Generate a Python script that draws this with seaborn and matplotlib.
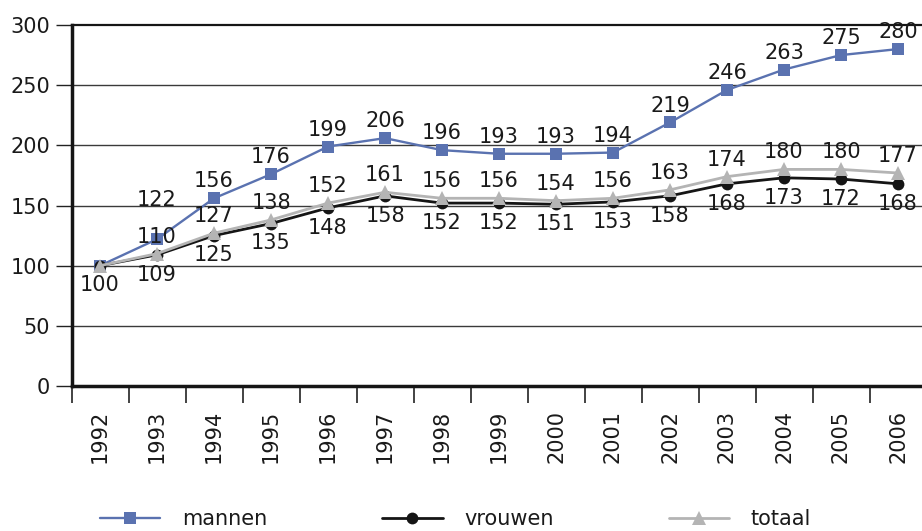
import matplotlib
matplotlib.use("Agg")
import matplotlib.pyplot as plt
import seaborn as sns
import pandas as pd
import numpy as np

years = ["1992", "1993", "1994", "1995", "1996", "1997", "1998", "1999",
         "2000", "2001", "2002", "2003", "2004", "2005", "2006"]
mannen = [100, 122, 156, 176, 199, 206, 196, 193, 193, 194, 219, 246, 263, 275, 280]
vrouwen = [100, 109, 125, 135, 148, 158, 152, 152, 151, 153, 158, 168, 173, 172, 168]
totaal = [100, 110, 127, 138, 152, 161, 156, 156, 154, 156, 163, 174, 180, 180, 177]
yticks = [0, 50, 100, 150, 200, 250, 300]

sns.set_theme(style="white")
plt.rcParams['font.family'] = ['DejaVu Sans']

fig = plt.figure(figsize=(9.22, 5.31), dpi=100)
ax = fig.add_axes([71.5 / 922, 145 / 531, 855 / 922, 361 / 531])

pos = np.arange(len(years))
df = pd.DataFrame({"x": pos, "mannen": mannen, "vrouwen": vrouwen, "totaal": totaal})

blue = "#5a72b0"
black = "#151515"
grey = "#b4b4b4"
tc = "#1a1a1a"

for y in yticks[1:-1]:
    ax.axhline(y, color="#3a3a3a", lw=1.0, zorder=0)

sns.lineplot(data=df, x="x", y="mannen", ax=ax, color=blue, lw=1.7, marker="s",
             markersize=9, markeredgewidth=0, markerfacecolor=blue, label="mannen", zorder=3)
sns.lineplot(data=df, x="x", y="vrouwen", ax=ax, color=black, lw=2.0, marker="o",
             markersize=8.5, markeredgewidth=0, markerfacecolor=black, label="vrouwen", zorder=4)
sns.lineplot(data=df, x="x", y="totaal", ax=ax, color=grey, lw=2.0, marker="^",
             markersize=9.5, markeredgewidth=0, markerfacecolor=grey, label="totaal", zorder=5)

fs = 15
for i, v in enumerate(mannen):
    if i == 0:
        continue
    off = 21 if i == 1 else 5
    ax.annotate(str(v), (i, v), xytext=(0, off), textcoords="offset points",
                ha="center", va="bottom", fontsize=fs, color=tc)
for i, v in enumerate(totaal):
    if i == 0:
        continue
    ax.annotate(str(v), (i, v), xytext=(0, 5), textcoords="offset points",
                ha="center", va="bottom", fontsize=fs, color=tc)
for i, v in enumerate(vrouwen):
    ax.annotate(str(v), (i, v), xytext=(0, -7), textcoords="offset points",
                ha="center", va="top", fontsize=fs, color=tc)

ax.set_xlim(-0.5, len(years) - 0.5)
ax.set_ylim(0, 300)
ax.set_yticks(yticks)
ax.set_yticklabels([str(t) for t in yticks], fontsize=fs, color=tc)
ax.set_xticks(pos)
ax.set_xticklabels(years, rotation=90, fontsize=fs, color=tc)
ax.set_xticks(np.arange(len(years) + 1) - 0.5, minor=True)
ax.tick_params(axis="x", which="both", bottom=True)
ax.tick_params(axis="x", which="major", length=0, pad=17)
ax.tick_params(axis="x", which="minor", length=12, width=1.2, color="#222222", direction="out")
ax.tick_params(axis="y", which="major", left=True, length=11.5, width=1.0,
               color="#222222", direction="out", pad=4)
ax.set_xlabel("")
ax.set_ylabel("")

for s in ["left", "bottom"]:
    ax.spines[s].set_linewidth(2.5)
    ax.spines[s].set_color("#151515")
ax.spines["top"].set_linewidth(1.6)
ax.spines["top"].set_color("#151515")
ax.spines["right"].set_visible(False)

ax.get_legend().remove()
handles, labels = ax.get_legend_handles_labels()
leg = fig.legend(handles, labels, loc="center left", bbox_to_anchor=(100 / 922, 1 - 519 / 531),
                 ncol=3, frameon=False, fontsize=fs, handlelength=2.9, handletextpad=1.05,
                 columnspacing=5.5, borderaxespad=0, borderpad=0)
for t in leg.get_texts():
    t.set_color(tc)

fig.savefig("out.png", dpi=100)
